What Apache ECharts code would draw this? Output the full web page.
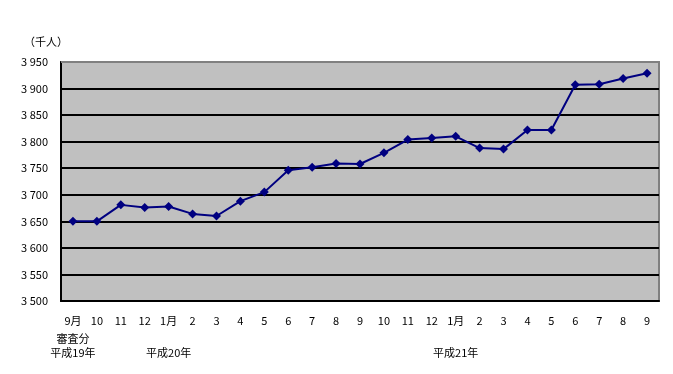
<!DOCTYPE html>
<html>
<head>
<meta charset="utf-8">
<script src="https://cdn.jsdelivr.net/npm/echarts@6/dist/echarts.min.js"></script>
<style>html,body{margin:0;padding:0;background:#fff}#c{width:673px;height:374px}</style>
</head>
<body>
<div id="c"></div>
<script>
var categories = ['9月','10','11','12','1月','2','3','4','5','6','7','8','9','10','11','12','1月','2','3','4','5','6','7','8','9'];
var values = [3650,3650,3681,3676,3678,3664,3660,3688,3705,3746,3752,3759,3758,3779,3804,3807,3810,3788,3786,3822,3822,3907,3908,3919,3929];
var subLabel1 = {0: '審査分'};
var subLabel2 = {0: '平成19年', 4: '平成20年', 16: '平成21年'};
var yTicks = {min: 3500, max: 3950, interval: 50};
var unitLabel = '（千人）';

var font = '"Noto Sans CJK JP", sans-serif';
var chart = echarts.init(document.getElementById('c'));
chart.setOption({
  animation: false,
  backgroundColor: '#ffffff',
  graphic: [{
    type: 'text', left: 24, top: 36,
    style: {text: unitLabel, font: '11px ' + font, fill: '#000'}
  }, {
    type: 'line', z: 100,
    shape: {x1: 61, y1: 62, x2: 660, y2: 62},
    style: {stroke: '#808080', lineWidth: 2}
  }],
  grid: {
    left: 61, right: 14, top: 62, bottom: 73,
    show: true, backgroundColor: '#C0C0C0', borderColor: '#808080', borderWidth: 2
  },
  xAxis: {
    type: 'category',
    data: categories,
    boundaryGap: true,
    axisLine: {lineStyle: {color: '#000', width: 2}},
    axisTick: {inside: true, length: 4, lineStyle: {color: '#000', width: 2}},
    axisLabel: {
      interval: 0,
      margin: 10,
      fontFamily: font,
      fontSize: 11,
      color: '#000',
      formatter: function (v, i) {
        var s = '{a|' + v + '}';
        if (subLabel1[i] !== undefined || subLabel2[i] !== undefined) {
          s += '\n{b|' + (subLabel1[i] || ' ') + '}';
          s += '\n{c|' + (subLabel2[i] || ' ') + '}';
        }
        return s;
      },
      rich: {
        a: {lineHeight: 20, fontSize: 11, fontFamily: font, color: '#000'},
        b: {lineHeight: 15, fontSize: 11, fontFamily: font, color: '#000'},
        c: {lineHeight: 13, fontSize: 11, fontFamily: font, color: '#000'}
      }
    }
  },
  yAxis: {
    type: 'value',
    min: yTicks.min, max: yTicks.max, interval: yTicks.interval,
    axisLine: {show: true, lineStyle: {color: '#000', width: 2}},
    axisTick: {show: false},
    axisLabel: {
      margin: 13, fontFamily: font, fontSize: 11, color: '#000',
      formatter: function (v) { var s = String(v); return s.slice(0, s.length - 3) + ' ' + s.slice(-3); }
    },
    splitLine: {show: true, lineStyle: {color: '#000', width: 2}}
  },
  series: [{
    type: 'line',
    data: values,
    symbol: 'diamond',
    symbolSize: 9,
    lineStyle: {color: '#000080', width: 2},
    itemStyle: {color: '#000080'}
  }]
});
</script>
</body>
</html>
